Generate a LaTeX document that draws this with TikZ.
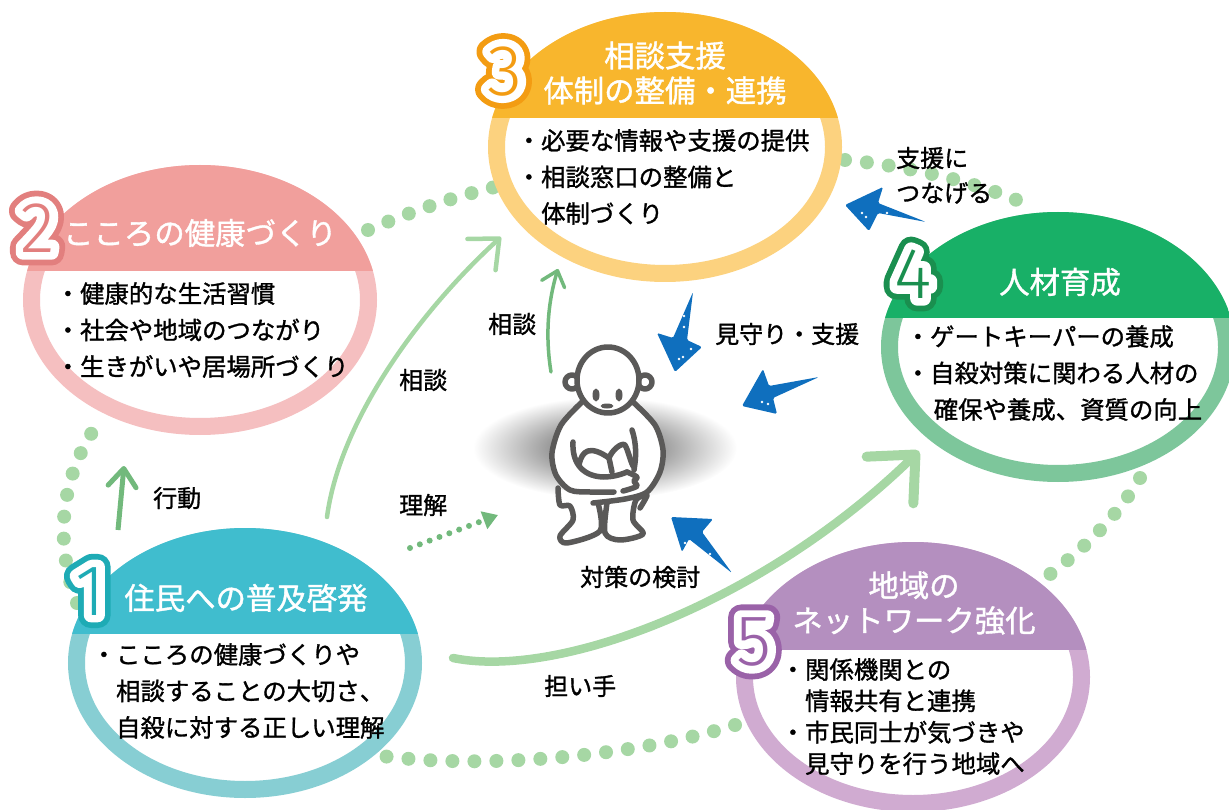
\documentclass[tikz,border=0pt]{standalone}
\usepackage{fontspec}
\usetikzlibrary{arrows.meta,bending,shapes.geometric,calc}
\setmainfont[FakeBold=1.2]{Noto Sans CJK JP}
\newfontfamily\digitouter[FakeBold=36]{Fira Sans}
\newfontfamily\digitmiddle[FakeBold=20]{Fira Sans}
\newfontfamily\digitinner{Fira Sans Light}
\definecolor{ringA}{HTML}{87CED3}\definecolor{headA}{HTML}{40BDCE}\definecolor{numA}{HTML}{1EABB5}
\definecolor{ringB}{HTML}{F5BFC0}\definecolor{headB}{HTML}{F19F9C}\definecolor{numB}{HTML}{E27F7E}
\definecolor{ringC}{HTML}{FCD27F}\definecolor{headC}{HTML}{F8B62D}\definecolor{numC}{HTML}{F39C12}
\definecolor{ringD}{HTML}{7DC69B}\definecolor{headD}{HTML}{18B067}\definecolor{numD}{HTML}{1A8F4F}
\definecolor{ringE}{HTML}{D0ABD1}\definecolor{headE}{HTML}{B48FBF}\definecolor{numE}{HTML}{9A62A8}
\definecolor{dotgreen}{HTML}{A6D7A4}
\definecolor{midgreen}{HTML}{72B97C}
\definecolor{bluearrow}{HTML}{0F6FBE}
\definecolor{persongray}{HTML}{5A5958}
\newcommand{\numeral}[2]{\pgfsetroundjoin\makebox[0pt]{\color{#1}\digitouter #2}\makebox[0pt]{\color{white}\digitmiddle #2}\makebox[0pt]{\color{#1}\digitinner #2}}

\begin{document}
\begin{tikzpicture}[x=1pt, y=-1pt]
    \tikzstyle{bubble}=[ellipse, draw, line width=17pt, fill=white, minimum width=337pt, minimum height=253pt, inner sep=0pt]
    \tikzstyle{title}=[text=white, font=\fontsize{30.4}{35}\selectfont, align=center, inner sep=0pt]
    \tikzstyle{body}=[anchor=north west, font=\fontsize{24.4}{36.5}\selectfont, align=left, inner sep=0pt]
    \tikzstyle{lbl}=[font=\fontsize{24}{35}\selectfont, align=left, inner sep=0pt]
    \tikzstyle{digit}=[font=\fontsize{72}{80}\selectfont, inner sep=0pt]
    \tikzstyle{dots}=[draw=dotgreen, line width=14pt, line cap=round, dash pattern=on 0pt off 22pt]
    \tikzstyle{blue}=[fill=bluearrow, rounded corners=1.5pt]
    \tikzstyle{person}=[draw=persongray, line width=5.5pt, line cap=round, line join=round]
    \useasboundingbox (0,0) rectangle (1229,810);

    % green dots between the five circles
    \coordinate (D1) at (77,603);
    \coordinate (D2) at (102,418);
    \coordinate (D3) at (368,230);
    \coordinate (D4) at (495,187);
    \coordinate (D5) at (845,160);
    \coordinate (D6) at (1035,208);
    \coordinate (D7) at (1140,478);
    \coordinate (D8) at (1045,578);
    \coordinate (D9) at (735,725);
    \coordinate (D10) at (382,756);
    \path[dots] (D1) .. controls (57,550) and (55,480) .. (D2);
    \path[dots] (D3) .. controls (410,212) and (450,198) .. (D4);
    \path[dots] (D5) .. controls (900,165) and (975,180) .. (D6);
    \path[dots] (D7) .. controls (1115,520) and (1080,552) .. (D8);
    \path[dots] (D9) .. controls (640,755) and (490,770) .. (D10);

    \foreach \n/\x/\y/\s/\h/\r in {A/245/663/634/headA/ringA, B/200/300/271/headB/ringB, C/665/147/118/headC/ringC, D/1058/347/318/headD/ringD, E/913/677/650/headE/ringE}{
        \node[bubble, draw=\r] (\n) at (\x,\y) {};
        \begin{scope}
            \clip (\x,\y) ellipse (177 and 135);
            \fill[\h] (\x-180,\y-140) rectangle (\x+180,\s);
        \end{scope}
    }

    \node[title] (tA) at (246,598) {住民への普及啓発};
    \node[title] (tB) at (200,233) {こころの健康づくり};
    \node[title] (tC) at (665,73) {相談支援\\体制の整備・連携};
    \node[title] (tD) at (1060,282) {人材育成};
    \node[title] (tE) at (914,603) {地域の\\ネットワーク強化};

    \node[body] (bA) at (91.5,643) {・こころの健康づくりや\\\hspace{1em}相談することの大切さ、\\\hspace{1em}自殺に対する正しい理解};
    \node[body] (bB) at (55.5,282) {・健康的な生活習慣\\・社会や地域のつながり\\・生きがいや居場所づくり};
    \node[body] (bC) at (516.5,129) {・必要な情報や支援の提供\\・相談窓口の整備と\\\hspace{1em}体制づくり};
    \node[body] (bD) at (905.5,325) {・ゲートキーパーの養成\\・自殺対策に関わる人材の\\\hspace{1.15em}確保や養成、資質の向上};
    \node[body, font=\fontsize{24.4}{31.4}\selectfont] (bE) at (780.5,658) {・関係機関との\\\hspace{1em}情報共有と連携\\・市民同士が気づきや\\\hspace{1em}見守りを行う地域へ};

    \node[digit] (nA) at (90,591) {\numeral{numA}{1}};
    \node[digit] (nB) at (38,228) {\numeral{numB}{2}};
    \node[digit] (nC) at (505,71) {\numeral{numC}{3}};
    \node[digit] (nD) at (913,274) {\numeral{numD}{4}};
    \node[digit] (nE) at (754,642) {\numeral{numE}{5}};

    % curved arrows
    \coordinate (G1) at (453,658);
    \coordinate (G2) at (919,451);
    \coordinate (G3) at (327,517);
    \coordinate (G4) at (501,237);
    \coordinate (G5) at (551,372);
    \coordinate (G6) at (558,269);
    \coordinate (G7) at (118,530);
    \coordinate (G8) at (124,466);
    \coordinate (G9) at (410,548);
    \coordinate (G10) at (498,515);
    \draw[draw=dotgreen, line width=8.5pt, line cap=round, -{Straight Barb[length=36pt,width=66pt,round,flex=0,line width=10pt]}] (G1) .. controls (560,680) and (770,600) .. (G2);
    \draw[draw=dotgreen, line width=4.5pt, line cap=round, -{Straight Barb[length=24pt,width=42pt,round,flex=0]}] (G3) .. controls (340,420) and (420,310) .. (G4);
    \draw[draw=midgreen, line width=3.5pt, line cap=round, -{Straight Barb[length=14pt,width=24pt,round]}] (G5) .. controls (545,335) and (548,300) .. (G6);
    \draw[draw=midgreen, line width=5pt, -{Straight Barb[length=18pt,width=28pt,round]}] (G7) -- (G8);
    \draw[draw=midgreen, line width=6pt, line cap=round, dash pattern=on 0pt off 10.5pt, -{Triangle[length=15pt,width=18pt]}] (G9) -- (G10);

    % blue hand drawn arrows
    \fill[blue] (693,292) -- (687,340) -- (702,347) -- (675,372) -- (657,333) -- (673,338) -- cycle;
    \fill[blue] (819,377) -- (773,398) -- (777,414) -- (742,406) -- (763,369) -- (769,386) -- cycle;
    \fill[blue] (732,573) -- (702,532) -- (713,519) -- (671,517) -- (682,552) -- (689,539) -- cycle;
    \fill[blue] (926,222) -- (878,213) -- (869,231) -- (845,205) -- (883,187) -- (878,203) -- cycle;
    \foreach \x/\y in {684/316, 684/327, 691/349, 683/357, 679/359, 762/402, 768/404, 781/396, 799/388, 672/535, 685/543, 701/552, 710/554, 862/213, 866/217, 887/213}
        \fill[white] (\x,\y) circle (1.3);

    % person with the shadow behind
    \shade[inner color=black!68, outer color=white] (605,448) ellipse (132 and 51);
    \filldraw[person, fill=white] plot[smooth] coordinates {(558,488) (560,505) (570,506) (573,520) (560,536) (567,543) (600,531) (598,503)};
    \filldraw[person, fill=white] plot[smooth] coordinates {(607,503) (605,533) (620,540) (643,534) (633,520) (636,500) (647,495) (640,508)};
    \fill[white] plot[smooth cycle] coordinates {(582,402) (561,425) (552,453) (556,475) (570,490) (593,502) (625,499) (647,492) (660,472) (663,450) (655,425) (633,402)};
    \draw[person] plot[smooth] coordinates {(582,402) (561,425) (552,453) (556,475) (570,490) (590,492) (614,492)};
    \draw[person] plot[smooth] coordinates {(633,402) (655,425) (663,450) (660,472) (647,492) (625,499) (593,503)};
    \draw[person] (573,442) .. controls (572,460) and (580,476) .. (603,477) .. controls (612,477) and (620,475) .. (627,472);
    \draw[person] (632,430) .. controls (637,445) and (636,458) .. (634,470);
    \draw[person] (579,465) .. controls (582,450) and (590,445) .. (609,458);
    \draw[person] (609,458) .. controls (612,450) and (622,442) .. (625,445) .. controls (628,450) and (630,460) .. (633,466);
    \draw[person] (609,458) -- (612,472);
    \draw[person] plot[smooth] coordinates {(627,472) (637,477) (634,481) (637,486) (630,489) (623,491)};
    \filldraw[person, fill=white] (572,382) circle (7);
    \filldraw[person, fill=white] (645,382) circle (7);
    \filldraw[person, fill=white] (608,380) ellipse (31 and 33);
    \fill[persongray] (596,395) ellipse (3.5 and 6.5);
    \fill[persongray] (619,395) ellipse (3.5 and 6.5);
    \fill[persongray] (607,406) ellipse (6.5 and 2.5);

    \node[lbl, anchor=west] (l1) at (896,158) {支援に};
    \node[lbl, anchor=west] (l2) at (896,193) {つなげる};
    \node[lbl, anchor=west] (l3) at (715,334) {見守り・支援};
    \node[lbl, anchor=west] (l4) at (488,324) {相談};
    \node[lbl, anchor=west] (l5) at (399,380) {相談};
    \node[lbl, anchor=west] (l6) at (399,505) {理解};
    \node[lbl, anchor=west] (l7) at (153,498) {行動};
    \node[lbl, anchor=west] (l8) at (580,577) {対策の検討};
    \node[lbl, anchor=west] (l9) at (544,686) {担い手};
\end{tikzpicture}
\end{document}
